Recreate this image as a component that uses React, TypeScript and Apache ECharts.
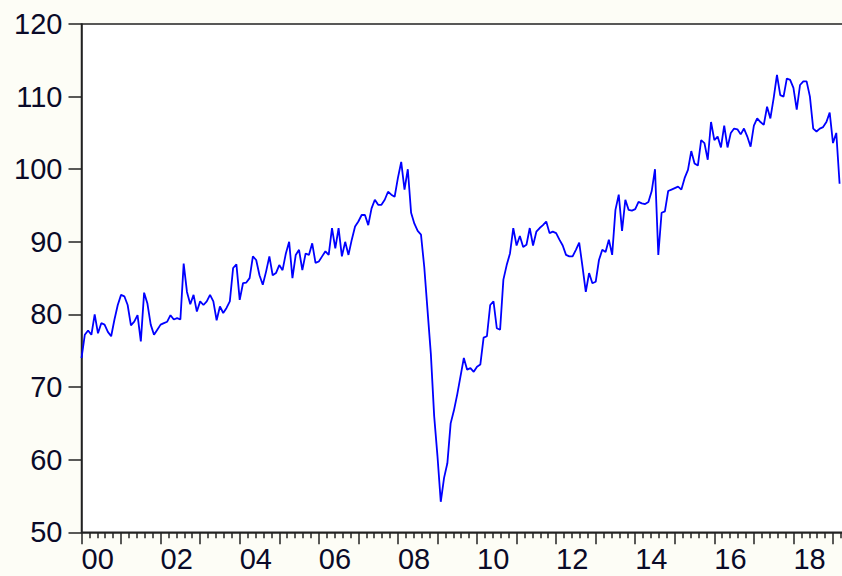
import React, { useEffect, useRef } from "react";
import * as echarts from "echarts";

// Monthly index values, 2000M01 .. 2019M03
const y2000 = [74.0, 77.2, 77.8, 77.2, 80.0, 77.4, 78.8, 78.6, 77.6, 77.0, 79.3, 81.3];
const y2001 = [82.7, 82.5, 81.3, 78.5, 79.0, 79.9, 76.3, 83.0, 81.5, 78.6, 77.2, 77.9];
const y2002 = [78.6, 78.8, 79.0, 79.9, 79.3, 79.5, 79.3, 87.0, 83.1, 81.4, 82.7, 80.4];
const y2003 = [81.8, 81.3, 81.8, 82.7, 81.8, 79.2, 81.1, 80.2, 80.9, 81.8, 86.4, 86.9];
const y2004 = [82.0, 84.3, 84.4, 85.0, 88.0, 87.5, 85.4, 84.1, 85.9, 88.0, 85.4, 85.7];
const y2005 = [86.8, 86.1, 88.4, 90.0, 85.0, 88.2, 88.9, 86.1, 88.4, 88.2, 89.8, 87.1];
const y2006 = [87.3, 88.0, 88.7, 88.2, 91.9, 89.1, 91.9, 88.0, 90.0, 88.2, 90.3, 92.1];
const y2007 = [92.8, 93.7, 93.7, 92.3, 94.6, 95.8, 95.1, 95.1, 95.8, 96.9, 96.5, 96.2];
const y2008 = [98.8, 101.0, 97.2, 100.0, 94.0, 92.5, 91.5, 91.0, 86.5, 80.5, 74.5, 66.0];
const y2009 = [60.5, 54.2, 57.5, 59.5, 65.0, 66.8, 69.0, 71.5, 74.0, 72.4, 72.6, 72.1];
const y2010 = [72.8, 73.1, 76.8, 77.0, 81.3, 81.8, 78.1, 77.9, 84.8, 86.8, 88.4, 91.9];
const y2011 = [89.5, 90.8, 89.3, 89.6, 91.9, 89.5, 91.4, 91.9, 92.3, 92.8, 91.2, 91.4];
const y2012 = [91.2, 90.3, 89.5, 88.2, 88.0, 88.0, 88.9, 89.9, 86.6, 83.1, 85.7, 84.3];
const y2013 = [84.5, 87.5, 88.9, 88.6, 90.3, 88.2, 94.4, 96.5, 91.5, 95.8, 94.4, 94.3];
const y2014 = [94.5, 95.5, 95.3, 95.2, 95.5, 97.0, 100.0, 88.2, 94.0, 94.2, 97.0, 97.2];
const y2015 = [97.4, 97.6, 97.2, 98.8, 99.9, 102.5, 100.8, 100.5, 104.0, 103.6, 101.3, 106.5];
const y2016 = [104.0, 104.5, 103.0, 106.0, 103.0, 105.0, 105.6, 105.5, 104.8, 105.6, 104.5, 103.1];
const y2017 = [106.0, 107.0, 106.5, 106.1, 108.6, 107.0, 109.8, 113.0, 110.2, 110.0, 112.5, 112.3];
const y2018 = [111.2, 108.2, 111.6, 112.1, 112.1, 110.0, 105.6, 105.2, 105.6, 105.8, 106.5, 107.8];
const y2019 = [103.6, 105.0, 98.0];

const values = [
  ...y2000, ...y2001, ...y2002, ...y2003, ...y2004, ...y2005, ...y2006,
  ...y2007, ...y2008, ...y2009, ...y2010, ...y2011, ...y2012, ...y2013,
  ...y2014, ...y2015, ...y2016, ...y2017, ...y2018, ...y2019,
];

// x tick labels, every second year
const yearLabels = ["00", "02", "04", "06", "08", "10", "12", "14", "16", "18"];

const AXIS_COLOR = "#222222";
const TEXT_COLOR = "#0a0a28";
const FONT = "'Liberation Sans', Arial, sans-serif";

export default function App() {
  const ref = useRef<HTMLDivElement>(null);
  useEffect(() => {
    if (!ref.current) return;
    const chart = echarts.init(ref.current, null, { renderer: "svg" });
    const data = values.map((v, i) => [i, v]);
    const monthW = 3.296;
    chart.setOption({
      animation: false,
      backgroundColor: "#fdfdf6",
      grid: {
        left: 81.5,
        top: 24,
        width: 231 * monthW,
        height: 508.3,
        show: true,
        backgroundColor: "#ffffff",
        borderColor: AXIS_COLOR,
        borderWidth: 1.5,
      },
      xAxis: {
        type: "value",
        min: 0,
        max: 231,
        interval: 12,
        axisLine: { show: true, onZero: false, lineStyle: { color: AXIS_COLOR, width: 1.5 } },
        axisTick: { show: true, length: 12, lineStyle: { color: AXIS_COLOR, width: 1.5 } },
        minorTick: { show: true, splitNumber: 5, length: 6, lineStyle: { color: AXIS_COLOR, width: 1.5 } },
        splitLine: { show: false },
        minorSplitLine: { show: false },
        axisLabel: {
          formatter: (v: number) => (v % 24 === 0 ? yearLabels[v / 24] ?? "" : ""),
          align: "left",
          margin: 12,
          fontSize: 29,
          color: TEXT_COLOR,
          fontFamily: FONT,
        },
      },
      yAxis: {
        type: "value",
        min: 50,
        max: 120,
        interval: 10,
        axisLine: { show: true, onZero: false, lineStyle: { color: AXIS_COLOR, width: 1.5 } },
        axisTick: { show: true, length: 13, lineStyle: { color: AXIS_COLOR, width: 1.5 } },
        splitLine: { show: false },
        axisLabel: {
          margin: 19,
          fontSize: 29,
          color: TEXT_COLOR,
          fontFamily: FONT,
        },
      },
      series: [
        {
          type: "line",
          data,
          symbol: "none",
          showSymbol: false,
          silent: true,
          lineStyle: { color: "#0000ff", width: 1.8 },
        },
      ],
    });
    return () => chart.dispose();
  }, []);
  return (
    <div
      style={{
        position: "absolute",
        left: 0,
        top: 0,
        width: 842,
        height: 576,
        overflow: "hidden",
        background: "#fdfdf6",
      }}
    >
      <div ref={ref} style={{ width: 880, height: 576 }} />
    </div>
  );
}
